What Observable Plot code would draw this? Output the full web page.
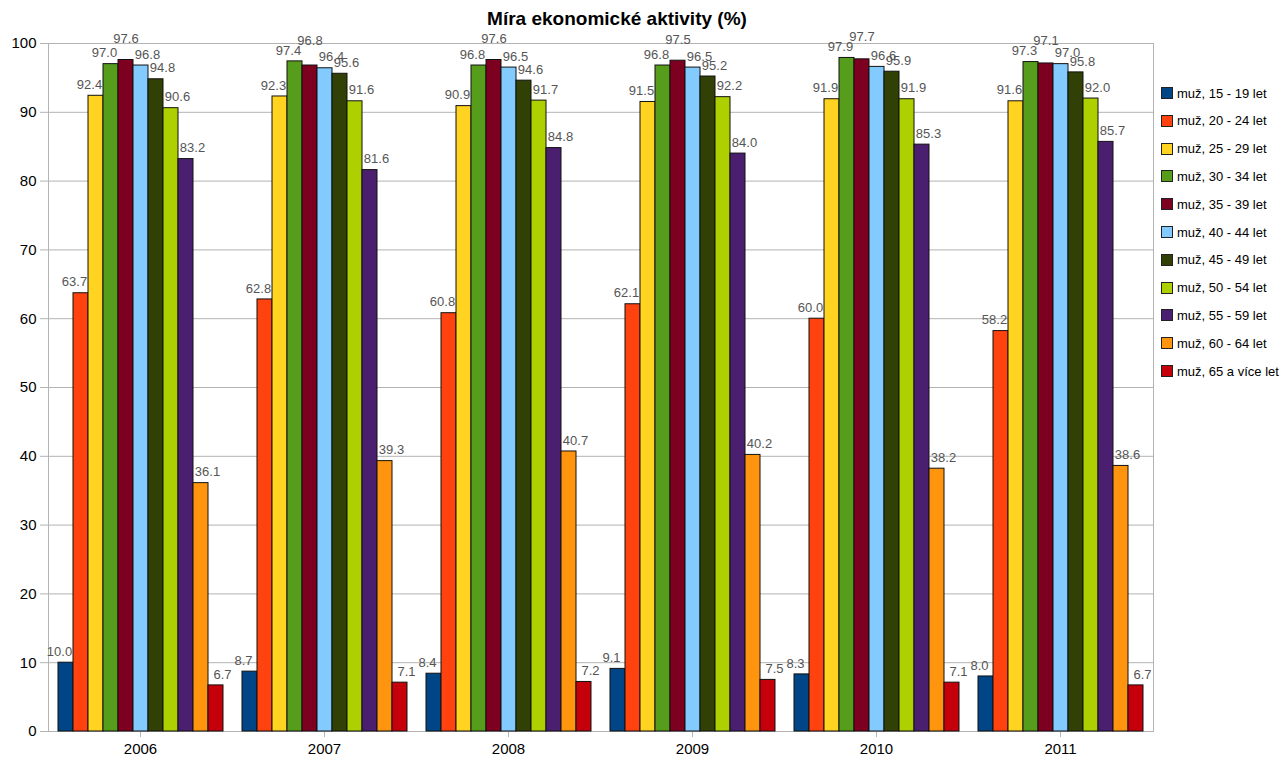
<!DOCTYPE html>
<html>
<head>
<meta charset="utf-8">
<script src="https://cdn.jsdelivr.net/npm/d3@7"></script>
<script src="https://cdn.jsdelivr.net/npm/@observablehq/plot@0.6"></script>
<style>
  html, body { margin: 0; padding: 0; background: #fff; }
  #wrap { position: relative; width: 1284px; height: 758px; font-family: "Liberation Sans", Arial, sans-serif; }
  #title { position: absolute; top: 8px; left: 617px; transform: translateX(-50%); font-size: 19px; font-weight: bold; white-space: nowrap; color: #000; z-index: 3; }
  #legend { position: absolute; left: 1161px; top: 0; z-index: 3; }
  .item { position: absolute; left: 0; height: 16px; display: flex; align-items: center; white-space: nowrap; font-size: 13px; color: #000; }
  .sw { width: 10px; height: 10px; border: 1px solid #222; margin-right: 4px; box-sizing: content-box; }
  #wrap svg { position: absolute; top: 0; left: 0; }
</style>
</head>
<body>
<div id="wrap">
  <div id="title">Míra ekonomické aktivity (%)</div>
  <div id="legend"></div>
</div>
<script>
const years = ["2006", "2007", "2008", "2009", "2010", "2011"];
const groups = ["muž, 15 - 19 let", "muž, 20 - 24 let", "muž, 25 - 29 let", "muž, 30 - 34 let", "muž, 35 - 39 let", "muž, 40 - 44 let", "muž, 45 - 49 let", "muž, 50 - 54 let", "muž, 55 - 59 let", "muž, 60 - 64 let", "muž, 65 a více let"];
const colors = ["#004586", "#ff420e", "#ffd320", "#579d1c", "#7e0021", "#83caff", "#314004", "#aecf00", "#4b1f6f", "#ff950e", "#c5000b"];
const v2006 = [10.0, 63.7, 92.4, 97.0, 97.6, 96.8, 94.8, 90.6, 83.2, 36.1, 6.7];
const v2007 = [8.7, 62.8, 92.3, 97.4, 96.8, 96.4, 95.6, 91.6, 81.6, 39.3, 7.1];
const v2008 = [8.4, 60.8, 90.9, 96.8, 97.6, 96.5, 94.6, 91.7, 84.8, 40.7, 7.2];
const v2009 = [9.1, 62.1, 91.5, 96.8, 97.5, 96.5, 95.2, 92.2, 84.0, 40.2, 7.5];
const v2010 = [8.3, 60.0, 91.9, 97.9, 97.7, 96.6, 95.9, 91.9, 85.3, 38.2, 7.1];
const v2011 = [8.0, 58.2, 91.6, 97.3, 97.1, 97.0, 95.8, 92.0, 85.7, 38.6, 6.7];
const yTicks = [0, 10, 20, 30, 40, 50, 60, 70, 80, 90, 100];

const series = [v2006, v2007, v2008, v2009, v2010, v2011];
const data = [];
years.forEach((yr, i) => groups.forEach((g, j) => data.push({
  year: yr, group: g, idx: j, value: series[i][j],
  // label anchor: the middle (crowded) label sits above its neighbours
  labelY: j === 4 ? Math.max(series[i][3], series[i][4], series[i][5]) : series[i][j]
})));

const grid = "#b3b3b3";
const common = {
  width: 1284,
  height: 758,
  marginTop: 43,
  marginBottom: 27,
  marginLeft: 48,
  marginRight: 131,
  style: {fontFamily: "Liberation Sans, Arial, sans-serif", background: "transparent", overflow: "visible"}
};

// Background: gridlines, frame and y axis across the whole plot area
const back = Plot.plot({
  ...common,
  y: {domain: [0, 100], ticks: yTicks, label: null},
  marks: [
    Plot.ruleY(yTicks, {stroke: grid}),
    Plot.frame({stroke: grid}),
    Plot.axisY({ticks: yTicks, tickSize: 8, tickPadding: 4, stroke: grid, fill: "#000", fontSize: 15, label: null})
  ]
});

const labelStyle = {fx: "year", x: "group", y: "labelY", text: d => d.value.toFixed(1), fill: "#555", fontSize: 13};

// Foreground: grouped bars faceted by year
const front = Plot.plot({
  ...common,
  fx: {domain: years, paddingInner: 0.085, paddingOuter: 0.0425, label: null},
  x: {domain: groups, padding: 0, axis: null},
  y: {domain: [0, 100], axis: null},
  color: {domain: groups, range: colors},
  marks: [
    Plot.axisFx({anchor: "bottom", tickSize: 6, tickPadding: 6, stroke: grid, fill: "#000", fontSize: 15, label: null}),
    Plot.barY(data, {fx: "year", x: "group", y: "value", fill: "group", stroke: "#111", strokeWidth: 1}),
    Plot.text(data.filter(d => d.idx < 4), {...labelStyle, dx: -6.5, dy: -11}),
    Plot.text(data.filter(d => d.idx === 4), {...labelStyle, dx: 0, dy: -21}),
    Plot.text(data.filter(d => d.idx > 4), {...labelStyle, dx: 6.5, dy: -11})
  ]
});

const wrap = document.getElementById("wrap");
wrap.appendChild(back);
wrap.appendChild(front);

const legend = document.getElementById("legend");
groups.forEach((g, i) => {
  const it = document.createElement("div");
  it.className = "item";
  it.style.top = (93 + i * 27.8 - 8) + "px";
  const sw = document.createElement("span");
  sw.className = "sw";
  sw.style.background = colors[i];
  it.appendChild(sw);
  it.appendChild(document.createTextNode(g));
  legend.appendChild(it);
});
</script>
</body>
</html>
